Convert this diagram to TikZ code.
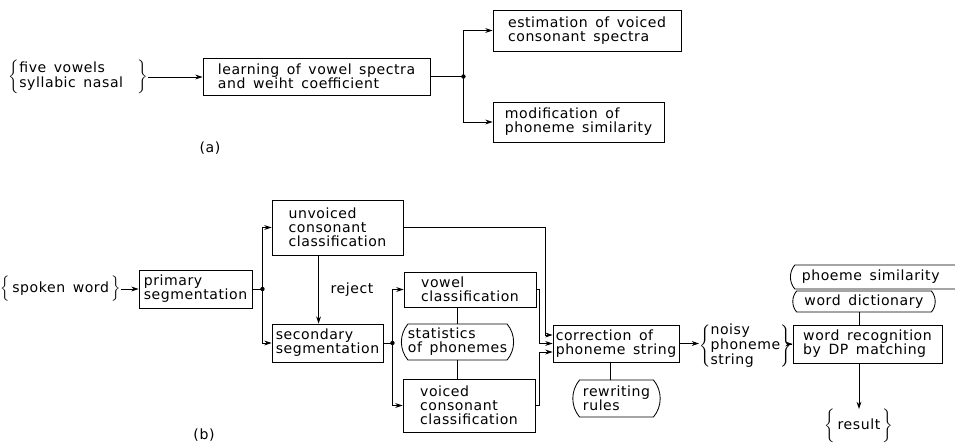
\documentclass[tikz,border=0pt]{standalone}
\usepackage{fontspec}
\setmainfont{DejaVu Sans}[LetterSpace=4,WordSpace=1.5]
\usetikzlibrary{arrows.meta,shapes.misc,calc}
\newcommand\dfont{\fontsize{10pt}{10pt}\selectfont}
\tikzset{
  every node/.style={font=\dfont},
  box/.style={draw, line width=0.6pt, align=left, inner xsep=2pt, inner ysep=1pt},
  rbox/.style={box, rounded rectangle, rounded rectangle arc length=80},
  ln/.style={line width=0.6pt},
  arr/.style={ln, -{Stealth[length=1.8mm,width=1.2mm]}},
  jdot/.style={circle, fill, inner sep=0pt, minimum size=0.11cm},
  lbl/.style={inner sep=0pt},
}
\begin{document}
\begin{tikzpicture}[x=0.025cm,y=-0.025cm]
\clip (0,0) rectangle (955,443);
% ---------- (a) ----------
\node[lbl, anchor=east] (fv) at (148,77) {$\left\{\begin{tabular}{@{}l@{}}five vowels\\syllabic nasal\end{tabular}\quad\right\}$};
\node[box, minimum width=5.675cm, minimum height=0.925cm] (learn) at (316.5,76.5) {learning of vowel spectra\\and weiht coefficient};
\node[box, minimum width=4.7cm, minimum height=1.025cm] (est) at (587,30.5) {estimation of voiced\\consonant spectra};
\node[box, minimum width=4.275cm, minimum height=1.0cm] (mod) at (578.5,122) {modification of\\phoneme similarity};
\node[lbl] (la) at (210,148) {(a)};
\draw[arr] (fv.east) -- (learn.west |- fv.east);
\coordinate (j1) at ($(learn.east)+(33,0)$);
\draw[ln] (learn.east) -- (j1);
\draw[arr] (j1) |- (est.west);
\draw[arr] (j1) |- (mod.west);
\node[jdot] (d1) at (j1) {};
% ---------- (b) ----------
\node[lbl, anchor=east] (sw) at (121,289) {$\Big\{\,\mbox{spoken word}\,\Big\}$};
\node[box, minimum width=2.825cm, minimum height=0.95cm] (prim) at (195.5,289) {primary\\segmentation};
\node[box, minimum width=3.275cm, minimum height=1.375cm] (unv) at (337.5,227.5) {unvoiced\\consonant\\classification};
\node[box, minimum width=2.775cm, minimum height=0.95cm] (sec) at (327.5,343) {secondary\\segmentation};
\node[box, minimum width=3.3cm, minimum height=0.875cm] (vow) at (470,289.5) {vowel\\classification};
\node[rbox, minimum width=2.725cm, minimum height=0.9cm] (stat) at (457.5,342) {statistics\\of phonemes};
\node[box, minimum width=3.3cm, minimum height=1.325cm] (voi) at (469,405.5) {voiced\\consonant\\classification};
\node[box, minimum width=3.0cm, minimum height=0.925cm] (cor) at (616,343.5) {correction of\\phoneme string};
\node[rbox, minimum width=2.325cm, minimum height=0.925cm] (rew) at (616.5,398.5) {rewriting\\rules};
\node[lbl, anchor=west] (nps) at (699,346) {$\left\{\begin{tabular}{@{}l@{}}noisy\\phoneme\\string\end{tabular}\right\}$};
\node[box, minimum width=3.725cm, minimum height=0.95cm] (wr) at (867.5,344) {word recognition\\by DP matching};
\node[rbox, minimum width=3.7cm, minimum height=0.525cm] (wd) at (864,301.5) {word dictionary};
\node[rbox, rounded rectangle right arc=none, anchor=west, minimum width=5cm, minimum height=0.6cm] (ps) at (790,277) {phoeme similarity\hspace*{25pt}};
\node[lbl, anchor=north] (res) at (859,409) {$\bigg\{\,\mbox{result}\,\bigg\}$};
\node[lbl] (lb) at (204,435) {(b)};
\node[lbl] (rejl) at (352,290) {reject};
% connectors
\draw[arr] (sw.east) -- (prim.west |- sw.east);
\coordinate (j2) at ($(prim.east)+(10,0)$);
\draw[ln] (prim.east) -- (j2);
\draw[arr] (j2) |- (unv.west);
\draw[arr] (j2) |- (sec.west);
\node[jdot] (d2) at (j2) {};
\coordinate (rj) at ($(unv.south west)+(47,0)$);
\draw[arr] (rj) -- (rj |- sec.north);
\coordinate (j3) at ($(sec.east)+(9,0)$);
\draw[ln] (sec.east) -- (j3);
\draw[arr] (j3) |- (vow.west);
\draw[arr] (j3) |- (voi.west);
\node[jdot] (d3) at (j3) {};
\draw[ln] (stat.north) -- (stat.north |- vow.south);
\draw[ln] (stat.south) -- (stat.south |- voi.north);
\coordinate (c1) at ($(cor.west)+(0,-8.5)$);
\coordinate (c3) at ($(cor.west)+(0,8.5)$);
\draw[arr] (unv.east) -| ($(c1)+(-7,0)$) -- (c1);
\draw[arr] (vow.east) -| ($(cor.west)+(-13,0)$) -- (cor.west);
\draw[arr] (voi.east) -| ($(c3)+(-13,0)$) -- (c3);
\coordinate (t1) at ($(cor.south)+(-6,0)$);
\draw[ln] (t1) -- (t1 |- rew.north);
\draw[arr] (cor.east) -- (nps.west |- cor.east);
\draw[arr] (nps.east |- wr.west) -- (wr.west);
\coordinate (t2) at ($(wr.north)+(-8.5,0)$);
\draw[ln] (t2) -- (t2 |- wd.south);
\coordinate (t3) at ($(wr.south)+(-8.5,0)$);
\draw[arr] (t3) -- (t3 |- res.north);
\end{tikzpicture}
\end{document}
